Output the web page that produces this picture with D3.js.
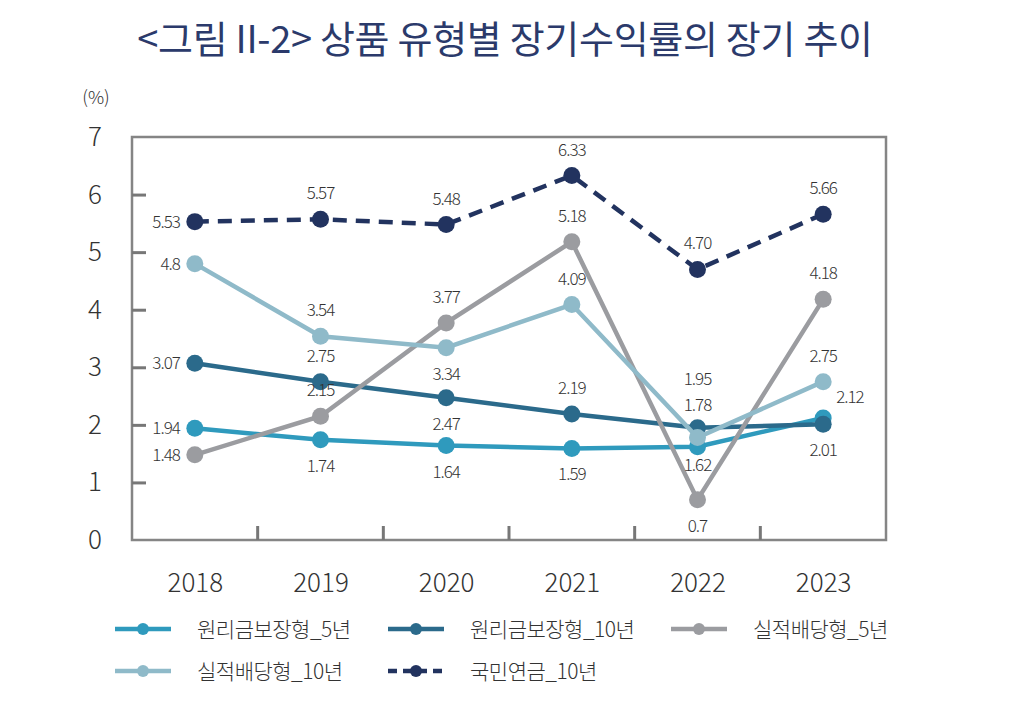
<!DOCTYPE html>
<html><head><meta charset="utf-8">
<script src="https://cdn.jsdelivr.net/npm/d3@7"></script>
<style>
body{margin:0;background:#fff;}
svg{display:block;font-family:"Noto Sans CJK KR","Noto Sans",sans-serif;}
</style></head>
<body>
<svg id="c" width="1020" height="706"></svg>
<script>
const years = ["2018","2019","2020","2021","2022","2023"];
const seriesNames = ["원리금보장형_5년","원리금보장형_10년","실적배당형_5년","실적배당형_10년","국민연금_10년"];
const guaranteed5 = [1.94,1.74,1.64,1.59,1.62,2.12];
const guaranteed10 = [3.07,2.75,2.47,2.19,1.95,2.01];
const performance5 = [1.48,2.15,3.77,5.18,0.70,4.18];
const performance10 = [4.80,3.54,3.34,4.09,1.78,2.75];
const pension10 = [5.53,5.57,5.48,6.33,4.70,5.66];
const valueLabels = [
  ["1.94","1.74","1.64","1.59","1.62","2.12"],
  ["3.07","2.75","2.47","2.19","1.95","2.01"],
  ["1.48","2.15","3.77","5.18","0.7","4.18"],
  ["4.8","3.54","3.34","4.09","1.78","2.75"],
  ["5.53","5.57","5.48","6.33","4.70","5.66"]
];
const yTicks = [0,1,2,3,4,5,6,7];

const colors = ["#2f9abd","#2b6a8b","#9b9ca0","#8fbac9","#22335f"];
const dashed = [false,false,false,false,true];
// label placement: L=left, A=above, B=below, R=right
const place = [
  ["L","B","B","B","B","R"],
  ["L","A","B","A","A","B"],
  ["L","A","A","A","B","A"],
  ["L","A","B","A","A","A"],
  ["L","A","A","A","A","A"]
];
// small extra vertical nudges for crowded spots
const extraDy = {"1-4":-23,"3-4":-7,"0-4":-8};

const allSeries = [guaranteed5,guaranteed10,performance5,performance10,pension10];
const svg = d3.select("#c");
const L=132,R=886,T=137,B=540;
const x = d3.scalePoint().domain(years).range([L,R]).padding(0.5);
const y = d3.scaleLinear().domain([0,7]).range([B,T]);

// title
svg.append("text").attr("x",505).attr("y",53).attr("text-anchor","middle")
  .attr("font-size",38).attr("font-weight",400).attr("fill","#2b3a6b").attr("letter-spacing",-0.3)
  .text("<그림 II-2> 상품 유형별 장기수익률의 장기 추이");

svg.append("text").attr("x",96).attr("y",104).attr("text-anchor","middle")
  .attr("font-size",18).attr("font-weight",300).attr("fill","#333").text("(%)");

// box
svg.append("rect").attr("x",L).attr("y",T).attr("width",R-L).attr("height",B-T)
  .attr("fill","none").attr("stroke","#858585").attr("stroke-width",2.5);

// y axis ticks (inside)
const yAxis = d3.axisRight(y).tickValues(yTicks.slice(1,-1)).tickSize(14).tickFormat("");
const gy = svg.append("g").attr("transform",`translate(${L},0)`).call(yAxis);
gy.select(".domain").remove();
gy.selectAll("line").attr("stroke","#777").attr("stroke-width",3);
// y labels
svg.append("g").selectAll("text").data(yTicks).join("text")
  .attr("x",95).attr("y",d=>y(d)+9).attr("text-anchor","middle")
  .attr("font-size",26).attr("font-weight",300).attr("fill","#333").text(d=>d);

// x axis boundary ticks (inside, between categories)
const step = x.step();
const bounds = years.slice(1).map(d=>x(d)-step/2);
svg.append("g").selectAll("line").data(bounds).join("line")
  .attr("x1",d=>d).attr("x2",d=>d).attr("y1",B).attr("y2",B-14)
  .attr("stroke","#777").attr("stroke-width",3);
const xAxis = d3.axisBottom(x).tickSize(0).tickPadding(0);
const gx = svg.append("g").attr("transform",`translate(0,${B+52})`).call(xAxis);
gx.select(".domain").remove();
gx.selectAll("text").attr("font-size",26).attr("font-weight",300).attr("fill","#333")
  .attr("font-family","'Noto Sans CJK KR',sans-serif").attr("dy",0);

// lines
const line = d3.line().x((d,i)=>x(years[i])).y(d=>y(d));
allSeries.forEach((s,k)=>{
  const g = svg.append("g");
  g.append("path").attr("d",line(s)).attr("fill","none").attr("stroke",colors[k])
    .attr("stroke-width",4.5).attr("stroke-dasharray",dashed[k]?"14,9":null);
  g.selectAll("circle").data(s).join("circle")
    .attr("cx",(d,i)=>x(years[i])).attr("cy",d=>y(d)).attr("r",8.5).attr("fill",colors[k]);
});

// value labels
allSeries.forEach((s,k)=>{
  s.forEach((v,i)=>{
    const p = place[k][i];
    let cx = x(years[i]), cy = y(v), anchor="middle";
    if(p==="L"){cx-=15;cy+=6;anchor="end";}
    else if(p==="R"){cx+=13;cy-=15;anchor="start";}
    else if(p==="A"){cy-=20;}
    else if(p==="B"){cy+=32;}
    cy += (extraDy[k+"-"+i]||0);
    svg.append("text").attr("x",cx).attr("y",cy).attr("text-anchor",anchor)
      .attr("font-size",17).attr("font-weight",300).attr("fill","#333").attr("letter-spacing",-1)
      .text(valueLabels[k][i]);
  });
});

// legend
const legPos = [[115,629],[388,629],[671,629],[115,671],[388,671]];
seriesNames.forEach((n,k)=>{
  const [lx,ly] = legPos[k];
  const g = svg.append("g");
  g.append("line").attr("x1",lx).attr("x2",lx+56).attr("y1",ly).attr("y2",ly)
    .attr("stroke",colors[k]).attr("stroke-width",4.5).attr("stroke-dasharray",dashed[k]?"9,6":null);
  g.append("circle").attr("cx",lx+28).attr("cy",ly).attr("r",6).attr("fill",colors[k]);
  g.append("text").attr("x",lx+82).attr("y",ly+8).attr("font-size",21).attr("font-weight",300)
    .attr("fill","#333").attr("letter-spacing",-0.5).text(n);
});
</script>
</body></html>
